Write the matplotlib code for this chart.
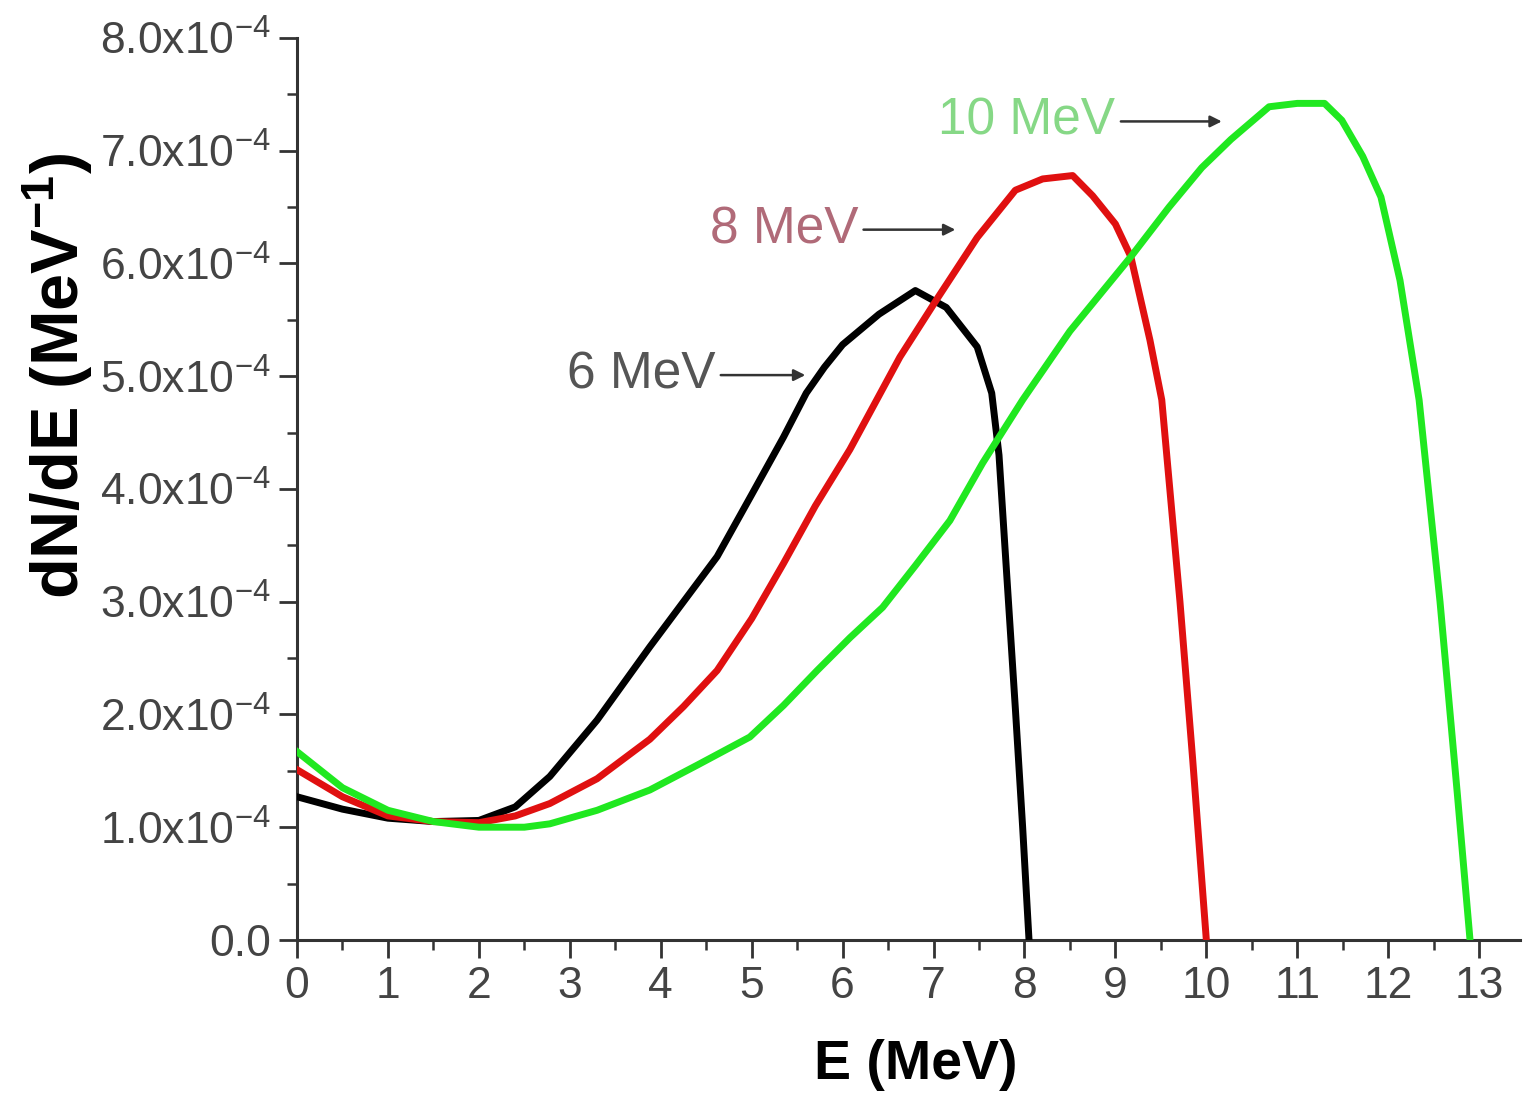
import matplotlib

matplotlib.use("Agg")
import matplotlib.pyplot as plt
import matplotlib.ticker as mticker

plt.rcParams["font.family"] = ["Liberation Sans", "DejaVu Sans"]
plt.rcParams["mathtext.default"] = "regular"

# spectra in units of 1e-4 MeV^-1
E_6 = [0.0, 0.5, 1.0, 1.5, 2.0, 2.4, 2.78, 3.3, 3.88, 4.25, 4.62, 5.0, 5.35, 5.6,
       5.8, 6.0, 6.4, 6.8, 7.14, 7.48, 7.64, 7.72, 7.8, 7.9, 7.98, 8.05]
N_6 = [1.27, 1.16, 1.08, 1.05, 1.06, 1.18, 1.45, 1.95, 2.6, 3.0, 3.4, 3.95, 4.46, 4.85,
       5.08, 5.28, 5.55, 5.76, 5.61, 5.26, 4.85, 4.3, 3.3, 2.05, 1.0, 0.0]

E_8 = [0.0, 0.5, 1.0, 1.5, 2.0, 2.4, 2.78, 3.3, 3.88, 4.25, 4.62, 5.0, 5.35, 5.7,
       6.08, 6.63, 7.05, 7.48, 7.9, 8.2, 8.53, 8.75, 9.0, 9.17, 9.38, 9.51, 9.71,
       9.85, 10.0]
N_8 = [1.51, 1.27, 1.1, 1.05, 1.04, 1.1, 1.21, 1.43, 1.78, 2.07, 2.39, 2.85, 3.34, 3.85,
       4.35, 5.17, 5.7, 6.23, 6.65, 6.75, 6.78, 6.6, 6.35, 6.06, 5.32, 4.79, 3.0,
       1.6, 0.0]

E_10 = [0.0, 0.5, 1.0, 1.5, 2.0, 2.5, 2.78, 3.3, 3.88, 4.4, 4.98, 5.35, 5.72, 6.08,
        6.44, 6.8, 7.18, 7.54, 7.98, 8.5, 9.17, 9.59, 9.95, 10.27, 10.69, 11.0,
        11.3, 11.49, 11.72, 11.92, 12.13, 12.34, 12.57, 12.76, 12.9]
N_10 = [1.67, 1.35, 1.15, 1.05, 1.0, 1.0, 1.03, 1.15, 1.33, 1.55, 1.8, 2.08, 2.39, 2.68,
        2.95, 3.32, 3.72, 4.23, 4.79, 5.4, 6.06, 6.5, 6.85, 7.1, 7.39, 7.42,
        7.42, 7.27, 6.95, 6.59, 5.85, 4.79, 3.0, 1.3, 0.0]

LABELS = ["6 MeV", "8 MeV", "10 MeV"]
LABEL_AT = [(4.6, 5.01), (6.17, 6.30), (9.0, 7.26)]
ARROW_TIP = [5.59, 7.24, 10.17]

C_LINES = ["#000000", "#e01010", "#20e820"]
C_TEXT = ["#555555", "#b06a78", "#86d886"]
AXIS = "#333333"
TICK_TXT = "#444444"


def main():
    fig = plt.figure(figsize=(15.24, 10.95), dpi=100)
    ax = fig.add_axes([0.1949, 0.1416, 0.8025, 0.8237])

    for xs, ys, c in zip([E_6, E_8, E_10], [N_6, N_8, N_10], C_LINES):
        ax.plot(xs, ys, color=c, lw=5, solid_joinstyle="round", zorder=3)

    for lab, (tx, ty), tip, c in zip(LABELS, LABEL_AT, ARROW_TIP, C_TEXT):
        ax.text(tx, ty, lab, ha="right", va="center", fontsize=37, color=c)
        ax.annotate(
            "",
            xy=(tip, ty),
            xytext=(tx + 0.06, ty),
            arrowprops=dict(arrowstyle="-|>", color=AXIS, lw=1.8,
                            mutation_scale=17, shrinkA=0, shrinkB=0),
        )

    ax.set_xlim(0, 13.45)
    ax.set_ylim(0, 8.0)
    ax.spines[["top", "right"]].set_visible(False)
    for s in ["left", "bottom"]:
        ax.spines[s].set_color(AXIS)
        ax.spines[s].set_linewidth(2.2)

    ax.xaxis.set_major_locator(mticker.MultipleLocator(1))
    ax.xaxis.set_minor_locator(mticker.MultipleLocator(0.5))
    ax.yaxis.set_major_locator(mticker.MultipleLocator(1))
    ax.yaxis.set_minor_locator(mticker.MultipleLocator(0.5))
    ax.yaxis.set_major_formatter(mticker.FuncFormatter(
        lambda v, _: "0.0" if v == 0 else f"{v:.1f}x10$^{{-4}}$"))
    ax.tick_params(which="major", direction="out", length=13, width=2, color=AXIS,
                   labelsize=32, labelcolor=TICK_TXT, pad=6)
    ax.tick_params(which="minor", direction="out", length=7, width=1.8, color=AXIS)

    ax.set_xlabel("E (MeV)", fontsize=40, fontweight="bold")
    ax.xaxis.set_label_coords(0.506, -0.11)
    ax.xaxis.label.set_va("top")
    ax.set_ylabel("dN/dE (MeV$^{-1}$)", fontsize=48, fontweight="bold")
    ax.yaxis.set_label_coords(-0.165, 0.626)

    fig.savefig("out.png", dpi=100, facecolor="white")
    plt.close(fig)


if __name__ == "__main__":
    main()
